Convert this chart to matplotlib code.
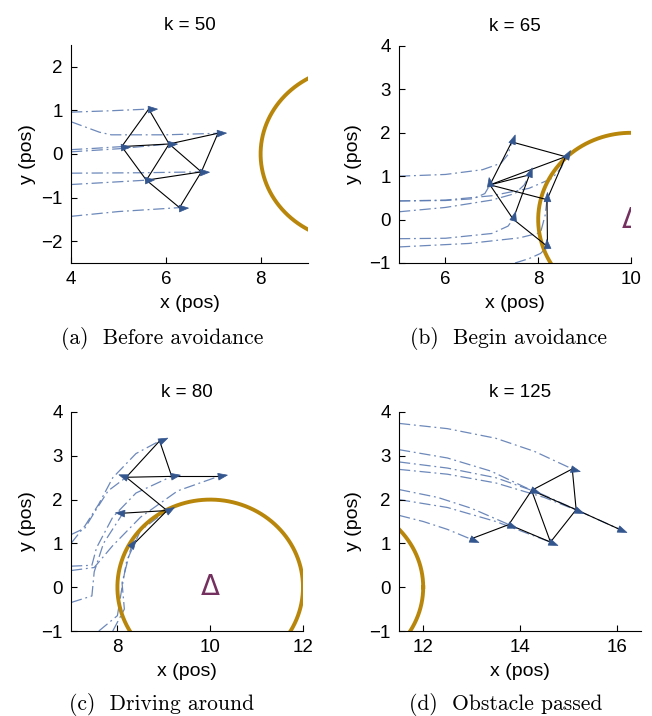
import numpy as np
import matplotlib
matplotlib.use("Agg")
import matplotlib.pyplot as plt
from matplotlib.path import Path
from matplotlib.markers import MarkerStyle
from matplotlib.transforms import Affine2D

plt.rcParams['font.family'] = ['Liberation Sans', 'DejaVu Sans']

# obstacle (circle centre and radius)
OBS_X, OBS_Y, OBS_R = 10.0, 0.0, 2.0

# ---- panel (a) k = 50
A_X = [5.64, 7.10, 5.07, 6.07, 6.75, 5.59, 6.29]
A_Y = [1.03, 0.475, 0.17, 0.23, -0.41, -0.60, -1.23]
A_HEAD = [3, 3, 3, 3, 2, 4, 3]
A_EDGES = [(0, 2), (0, 3), (2, 3), (3, 1), (2, 5), (5, 3), (3, 4), (5, 4),
           (1, 4), (5, 6), (6, 4)]
A_TRAIL_X = [[4, 4.8, 5.64], [4, 4.3, 4.6, 4.85, 6.0, 7.1], [4, 4.5, 5.07],
             [4, 5.0, 6.07], [4, 5.5, 6.75], [4, 4.8, 5.59], [4, 5.0, 6.29]]
A_TRAIL_Y = [[0.96, 0.99, 1.03], [0.74, 0.62, 0.50, 0.44, 0.44, 0.475],
             [0.10, 0.13, 0.17], [0.05, 0.12, 0.23], [-0.44, -0.43, -0.41],
             [-0.70, -0.65, -0.60], [-1.43, -1.32, -1.23]]

# ---- panel (b) k = 65
B_X = [7.43, 8.59, 6.96, 7.81, 8.19, 7.46, 8.20]
B_Y = [1.79, 1.45, 0.80, 1.03, 0.46, 0.01, -0.62]
B_HEAD = [70, 60, 100, 70, 90, 75, 95]
B_EDGES = [(0, 1), (0, 2), (2, 1), (2, 3), (2, 4), (2, 5), (3, 5), (1, 4),
           (4, 6), (5, 6)]
B_TRAIL_X = [[5, 6.0, 6.8, 7.2, 7.35, 7.43],
             [5, 6.0, 7.0, 7.8, 8.3, 8.5, 8.59],
             [5, 6.0, 6.6, 6.85, 6.96],
             [5, 6.0, 7.0, 7.5, 7.7, 7.81],
             [5, 6.5, 7.6, 8.05, 8.15, 8.19],
             [5, 6.0, 7.0, 7.35, 7.46],
             [7.5, 7.8, 8.05, 8.2]]
B_TRAIL_Y = [[1.0, 1.04, 1.15, 1.3, 1.5, 1.79],
             [0.43, 0.45, 0.55, 0.72, 0.95, 1.2, 1.45],
             [0.43, 0.44, 0.48, 0.6, 0.80],
             [0.18, 0.28, 0.45, 0.6, 0.8, 1.03],
             [-0.63, -0.55, -0.42, -0.3, 0.1, 0.46],
             [-0.44, -0.43, -0.32, -0.15, 0.01],
             [-1.0, -0.9, -0.78, -0.62]]

# ---- panel (c) k = 80
C_X = [8.91, 8.19, 9.17, 10.18, 8.12, 9.07, 8.30]
C_Y = [3.34, 2.51, 2.53, 2.53, 1.69, 1.75, 0.93]
C_HEAD = [25, 160, 10, 10, 175, 30, 55]
C_EDGES = [(0, 1), (0, 2), (1, 2), (2, 3), (1, 5), (4, 5), (5, 6)]
C_TRAIL_X = [[7.0, 7.3, 7.6, 7.9, 8.4, 8.91],
             [7.0, 7.3, 7.5, 7.8, 8.19],
             [7.0, 7.45, 7.55, 7.9, 8.4, 9.17],
             [7.0, 7.5, 7.9, 8.5, 9.3, 10.18],
             [7.0, 7.45, 7.5, 7.7, 8.12],
             [7.6, 8.0, 8.1, 8.2, 8.5, 9.07],
             [7.9, 8.15, 8.1, 8.3]]
C_TRAIL_Y = [[1.0, 1.4, 1.9, 2.5, 3.05, 3.34],
             [1.2, 1.35, 1.7, 2.2, 2.51],
             [0.48, 0.5, 0.9, 1.6, 2.15, 2.53],
             [0.38, 0.45, 0.95, 1.6, 2.2, 2.53],
             [-0.35, -0.2, 0.35, 1.0, 1.69],
             [-1.0, -0.65, 0.0, 0.6, 1.3, 1.75],
             [-1.0, -0.5, 0.1, 0.93]]

# ---- panel (d) k = 125
D_X = [15.08, 14.24, 15.16, 16.04, 13.77, 14.63, 12.98]
D_Y = [2.70, 2.21, 1.77, 1.33, 1.43, 1.03, 1.10]
D_HEAD = [-15, -20, -22, -22, -20, -22, -22]
D_EDGES = [(0, 1), (0, 2), (1, 2), (2, 3), (1, 4), (1, 5), (4, 5), (2, 5),
           (4, 6)]
D_TRAIL_X = [[11.5, 12.5, 13.5, 14.3, 15.08],
             [11.5, 12.5, 13.4, 14.24],
             [11.5, 12.5, 13.5, 14.4, 15.16],
             [11.5, 12.5, 13.5, 14.5, 15.3, 16.04],
             [11.5, 12.3, 13.0, 13.77],
             [11.5, 12.5, 13.5, 14.63],
             [11.5, 12.0, 12.5, 12.98]]
D_TRAIL_Y = [[3.74, 3.62, 3.4, 3.1, 2.70],
             [3.14, 2.95, 2.65, 2.21],
             [2.86, 2.72, 2.5, 2.15, 1.77],
             [2.69, 2.58, 2.38, 2.05, 1.7, 1.33],
             [2.23, 2.05, 1.8, 1.43],
             [2.0, 1.82, 1.5, 1.03],
             [1.64, 1.5, 1.32, 1.10]]

TITLES = ["k = 50", "k = 65", "k = 80", "k = 125"]
CAPTIONS = ["(a)  Before avoidance", "(b)  Begin avoidance",
            "(c)  Driving around", "(d)  Obstacle passed"]
XLIMS = [(4, 9), (5, 10), (7, 12), (11.5, 16.5)]
YLIMS = [(-2.5, 2.5), (-1, 4), (-1, 4), (-1, 4)]
XTICKS = [[4, 6, 8], [6, 8, 10], [8, 10, 12], [12, 14, 16]]
YTICKS = [[-2, -1, 0, 1, 2], [-1, 0, 1, 2, 3, 4], [-1, 0, 1, 2, 3, 4],
          [-1, 0, 1, 2, 3, 4]]

# axes boxes in pixels: left, top, right, bottom
BOXES = [(71, 45, 308, 263), (399, 46, 631, 263),
         (71, 412, 303, 631), (399, 412, 641, 631)]
CAP_POS = [(162, 339), (508, 339), (162, 705), (506, 705)]
YLABEL_X = [27, 353, 27, 353]

TRAIL_C = "#5d7cb3"
AGENT_C = "#34568f"
OBS_C = "#b8860b"
DELTA_C = "#74305f"

arrow_path = Path([(1.0, 0.0), (-0.15, 0.42), (-0.15, -0.42), (1.0, 0.0)],
                  [Path.MOVETO, Path.LINETO, Path.LINETO, Path.CLOSEPOLY])


def draw_panel(ax, xlim, xs, ys, heads, edges, trail_x, trail_y):
    for tx, ty in zip(trail_x, trail_y):
        ax.plot(tx, ty, color=TRAIL_C, lw=0.9, alpha=0.9,
                linestyle=(0, (9, 3, 1.5, 3)), zorder=1)

    theta = np.linspace(0, 2 * np.pi, 400)
    ax.plot(OBS_X + OBS_R * np.cos(theta), OBS_Y + OBS_R * np.sin(theta),
            color=OBS_C, lw=2.8, zorder=2)

    for i, j in edges:
        ax.plot([xs[i], xs[j]], [ys[i], ys[j]], color="k", lw=0.8, zorder=3)

    for x, y, h in zip(xs, ys, heads):
        m = MarkerStyle(arrow_path, transform=Affine2D().rotate_deg(h))
        ax.plot([x], [y], marker=m, ms=11.5, color=AGENT_C, mec=AGENT_C,
                mew=0.5, linestyle="none", zorder=4)

    # obstacle label only where its centre is (at least partly) in view
    if xlim[0] - 0.3 < OBS_X < xlim[1] + 0.3:
        ax.text(OBS_X, OBS_Y, "Δ", color=DELTA_C, fontsize=20, ha="center",
                va="center", family="DejaVu Sans", clip_on=True, zorder=5)


fig = plt.figure(figsize=(6.52, 7.16), dpi=100)
W, H = 652.0, 716.0

panels = [(A_X, A_Y, A_HEAD, A_EDGES, A_TRAIL_X, A_TRAIL_Y),
          (B_X, B_Y, B_HEAD, B_EDGES, B_TRAIL_X, B_TRAIL_Y),
          (C_X, C_Y, C_HEAD, C_EDGES, C_TRAIL_X, C_TRAIL_Y),
          (D_X, D_Y, D_HEAD, D_EDGES, D_TRAIL_X, D_TRAIL_Y)]

for k, data in enumerate(panels):
    l, t, r, b = BOXES[k]
    w, h = r - l, b - t
    ax = fig.add_axes([l / W, 1 - b / H, w / W, h / H])
    draw_panel(ax, XLIMS[k], *data)

    ax.set_xlim(*XLIMS[k])
    ax.set_ylim(*YLIMS[k])
    ax.set_xticks(XTICKS[k])
    ax.set_yticks(YTICKS[k])
    ax.set_yticklabels([str(v).replace("-", "\u2212") for v in YTICKS[k]])
    ax.spines["top"].set_visible(False)
    ax.spines["right"].set_visible(False)
    ax.spines["left"].set_linewidth(0.8)
    ax.spines["bottom"].set_linewidth(0.8)
    ax.tick_params(direction="in", length=4, width=0.8, labelsize=13.5, pad=6)
    ax.set_title(TITLES[k], fontsize=13.5, y=1 + 19.0 / h, va="center", pad=0)
    ax.set_xlabel("x (pos)", fontsize=14)
    ax.set_ylabel("y (pos)", fontsize=14)
    ax.xaxis.set_label_coords(0.5, -41.0 / h)
    ax.yaxis.set_label_coords((YLABEL_X[k] - l) / w, 0.5)
    ax.xaxis.label.set_va("center")
    ax.yaxis.label.set_va("center")

    cx, cy = CAP_POS[k]
    fig.text(cx / W, 1 - cy / H, CAPTIONS[k], fontsize=15.5, ha="center",
             va="center", family=["cmr10", "DejaVu Serif"])

fig.savefig("out.png", dpi=100)
